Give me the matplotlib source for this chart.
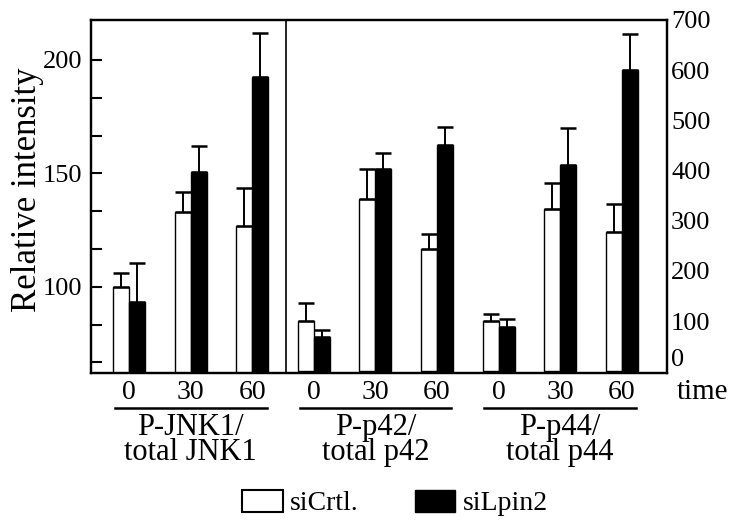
import matplotlib
matplotlib.use('Agg')
import matplotlib.pyplot as plt
from matplotlib.patches import Patch
import matplotlib.transforms as mtransforms

plt.rcParams['font.family'] = ['Liberation Serif', 'DejaVu Serif']

# data
times = ['0', '30', '60']
groups = ['P-JNK1/\ntotal JNK1', 'P-p42/\ntotal p42', 'P-p44/\ntotal p44']

# left axis (JNK1)
jnk_ctrl = [100, 132.8, 126.8]
jnk_ctrl_err = [6, 8.9, 16.9]
jnk_lpin = [93.2, 150.6, 192.6]
jnk_lpin_err = [17.4, 11.6, 19.1]

# right axis (p42, p44)
p_ctrl = [100, 343, 243, 100, 323, 277]
p_ctrl_err = [36, 61, 30, 14, 53, 56]
p_lpin = [68, 403, 450, 89, 411, 600]
p_lpin_err = [14.6, 33, 36, 15, 73, 73]

w = 0.26
lw = 1.0

fig = plt.figure(figsize=(7.36, 5.23), dpi=100)
ax = fig.add_axes([0.1236, 0.2868, 0.7826, 0.675])
ax2 = ax.twinx()

xl = [0, 1, 2]
xr = [3, 4, 5, 6, 7, 8]
ekw = dict(ecolor='black', elinewidth=1.4, capsize=5.5, capthick=1.8)

ax.bar([x - w / 2 for x in xl], jnk_ctrl, w, color='white', edgecolor='black', linewidth=lw,
       yerr=[[0] * 3, jnk_ctrl_err], error_kw=ekw)
ax.bar([x + w / 2 for x in xl], jnk_lpin, w, color='black', edgecolor='black', linewidth=lw,
       yerr=[[0] * 3, jnk_lpin_err], error_kw=ekw)
ax2.bar([x - w / 2 for x in xr], p_ctrl, w, color='white', edgecolor='black', linewidth=lw,
        yerr=[[0] * 6, p_ctrl_err], error_kw=ekw)
ax2.bar([x + w / 2 for x in xr], p_lpin, w, color='black', edgecolor='black', linewidth=lw,
        yerr=[[0] * 6, p_lpin_err], error_kw=ekw)

ax.set_xlim(-0.622, 8.736)
ax.set_ylim(62.0, 217.6)
ax2.set_ylim(-3.2, 700)

# divider between JNK1 and p42 panels
ax.axvline(2.55, color='black', linewidth=1.2)

for a in (ax, ax2):
    for s in a.spines.values():
        s.set_linewidth(1.6)

ax.set_yticks([100, 150, 200])
ax.set_yticks([66.67, 83.33, 116.67, 133.33, 166.67, 183.33], minor=True)
ax.tick_params(axis='y', which='both', direction='in', length=8, width=1.5, labelsize=19, pad=6)
ax2.set_yticks(range(0, 701, 100))
ax2.tick_params(axis='y', length=0, labelsize=19, pad=3)
ax2.get_yticklabels()[0].set_va('bottom')

ax.set_xticks(range(9))
ax.set_xticklabels(times * 3)
ax.tick_params(axis='x', length=0, labelsize=20, pad=5)

fig.text(28 / 736, 1 - 190 / 523, 'Relative intensity', rotation=90, ha='center', va='center', fontsize=25)

ax.text(1.017, -0.017, 'time', transform=ax.transAxes, ha='left', va='top', fontsize=21)

# group underlines and labels
trans = mtransforms.blended_transform_factory(ax.transData, ax.transAxes)
for i, g in enumerate(groups):
    x0 = 3 * i - 0.23
    x1 = 3 * i + 2 + 0.23
    ax.plot([x0, x1], [-0.099, -0.099], color='black', linewidth=1.8, transform=trans, clip_on=False)
    ax.text(3 * i + 1, -0.112, g, transform=trans, ha='center', va='top', fontsize=22,
            linespacing=0.85, multialignment='center')

handles = [Patch(facecolor='white', edgecolor='black', linewidth=1.5, label='siCrtl.'),
           Patch(facecolor='black', edgecolor='black', label='siLpin2')]
fig.legend(handles=handles, loc='center', bbox_to_anchor=(395 / 736, 0.038), ncol=2, frameon=False,
           fontsize=20, handlelength=1.45, handleheight=0.85, handletextpad=0.28, columnspacing=2.0)

fig.savefig('out.png', dpi=100)
